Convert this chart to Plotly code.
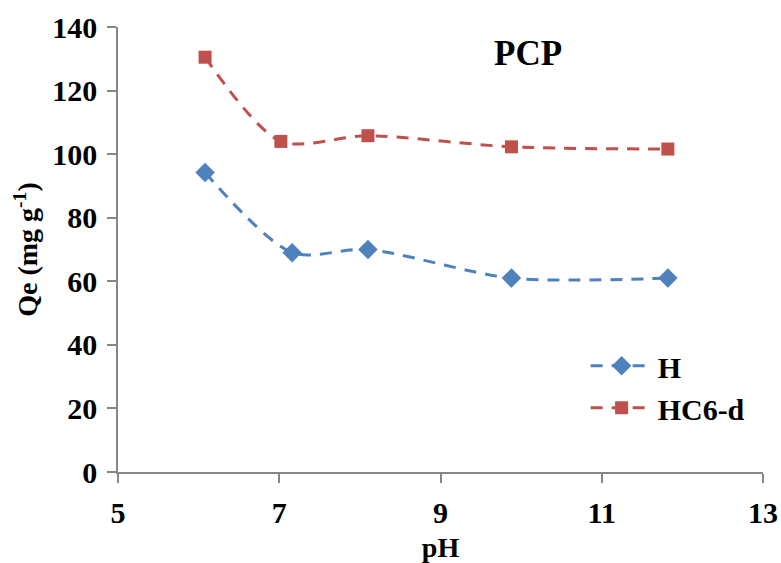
import plotly.graph_objects as go

# pH values and equilibrium uptake for each adsorbent
ph_h = [6.08, 7.16, 8.10, 9.88, 11.82]
qe_h = [94.2, 69.0, 70.0, 61.0, 61.0]

ph_hc6 = [6.08, 7.02, 8.10, 9.88, 11.82]
qe_hc6 = [130.5, 104.0, 105.8, 102.3, 101.6]

x_ticks = [5, 7, 9, 11, 13]
y_ticks = [0, 20, 40, 60, 80, 100, 120, 140]

serif = "Liberation Serif, Times New Roman, serif"
axis_grey = "#868686"

fig = go.Figure()
fig.add_trace(go.Scatter(
    x=ph_h, y=qe_h, name="<b>H</b>", mode="lines+markers",
    line=dict(color="#4F81BD", width=3, dash="12px,9px", shape="spline", smoothing=0.8),
    marker=dict(symbol="diamond", size=15, color="#4F81BD"),
))
fig.add_trace(go.Scatter(
    x=ph_hc6, y=qe_hc6, name="<b>HC6-d</b>", mode="lines+markers",
    line=dict(color="#C0504D", width=3, dash="12px,9px", shape="spline", smoothing=0.8),
    marker=dict(symbol="square", size=13, color="#C0504D"),
))

fig.add_annotation(
    text="<b>PCP</b>", x=0.635, y=0.94, xref="paper", yref="paper",
    xanchor="center", yanchor="middle",
    showarrow=False, font=dict(family=serif, size=35, color="black"),
)

fig.update_layout(
    width=781, height=563,
    margin=dict(l=118, r=18, t=27, b=91),
    paper_bgcolor="white", plot_bgcolor="white",
    font=dict(family=serif, size=28, color="black"),
    showlegend=True,
    legend=dict(
        x=0.725, y=0.297, xanchor="left", yanchor="top",
        bgcolor="rgba(0,0,0,0)", font=dict(family=serif, size=30),
        itemwidth=62, tracegroupgap=0,
    ),
    xaxis=dict(
        range=[5, 13], tickvals=x_ticks, ticktext=[f"<b>{v}</b>" for v in x_ticks],
        tickfont=dict(family=serif, size=30), automargin=False, ticklabelstandoff=4,
        showgrid=False, zeroline=False, showline=True, linecolor=axis_grey, linewidth=1.5,
        ticks="outside", ticklen=9, tickcolor=axis_grey, tickwidth=1.5,
        title=dict(text="<b>pH</b>", font=dict(family=serif, size=28), standoff=11),
    ),
    yaxis=dict(
        range=[0, 140], tickvals=y_ticks, ticktext=[f"<b>{v}</b>" for v in y_ticks],
        tickfont=dict(family=serif, size=30), automargin=False, ticklabelstandoff=4,
        showgrid=False, zeroline=False, showline=True, linecolor=axis_grey, linewidth=1.5,
        ticks="outside", ticklen=9, tickcolor=axis_grey, tickwidth=1.5,
        title=dict(text="<b>Qe (mg g<sup>-1</sup>)</b>", font=dict(family=serif, size=28), standoff=6),
    ),
)

fig.write_html("out.html")
